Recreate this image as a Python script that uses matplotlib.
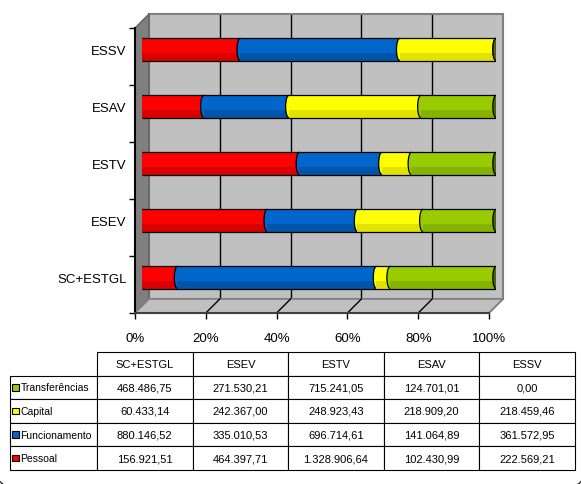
#!/usr/bin/env python3

import matplotlib
matplotlib.use('Agg')
import matplotlib.pyplot as plt
import numpy as np
from matplotlib.patches import Ellipse, Polygon, Rectangle, Arc
from matplotlib.lines import Line2D

# data
categories = ['SC+ESTGL', 'ESEV', 'ESTV', 'ESAV', 'ESSV']
series_names = ['Pessoal', 'Funcionamento', 'Capital', 'Transferências']
pessoal = [156921.51, 464397.71, 1328906.64, 102430.99, 222569.21]
funcionamento = [880146.52, 335010.53, 696714.61, 141064.89, 361572.95]
capital = [60433.14, 242367.00, 248923.43, 218909.20, 218459.46]
transferencias = [468486.75, 271530.21, 715241.05, 124701.01, 0.00]
x_ticks = [0, 20, 40, 60, 80, 100]

colors = ['#FF0000', '#0066CC', '#FFFF00', '#99CC00']
shade = ['#D80000', '#0055AA', '#E2E200', '#86B300']
cap_color = '#4F6600'

plt.rcParams['font.family'] = ['Liberation Sans', 'DejaVu Sans']

W, H = 581, 485
fig = plt.figure(figsize=(W / 100, H / 100), dpi=100)


def px_axes(x0, y0, x1, y1, **kw):
    return fig.add_axes([x0 / W, 1 - y1 / H, (x1 - x0) / W, (y1 - y0) / H], **kw)


def fmt(v):
    s = f'{v:,.2f}'
    return s.replace(',', '#').replace('.', ',').replace('#', '.')


values = np.array([pessoal, funcionamento, capital, transferencias])
pct = values / values.sum(axis=0) * 100

# back wall
ax_back = px_axes(149, 15, 503, 300)
ax_back.set_facecolor('#C0C0C0')
ax_back.set_xlim(0, 100)
ax_back.set_ylim(-0.5, 4.5)
ax_back.set_xticks(x_ticks[1:-1])
ax_back.set_yticks([])
ax_back.tick_params(length=0, labelbottom=False)
ax_back.grid(axis='x', color='black', lw=1)
for sp in ax_back.spines.values():
    sp.set_color('#808080')
    sp.set_linewidth(1.5)

# front plane: axis lines and ticks
ax_front = px_axes(135, 29, 489, 314)
ax_front.patch.set_visible(False)
ax_front.set_xlim(0, 100)
ax_front.set_ylim(-0.5, 4.5)
ax_front.set_xticks(x_ticks)
ax_front.set_xticklabels([f'{t}%' for t in x_ticks], fontsize=9.5)
ax_front.set_yticks(np.arange(-0.5, 5, 1))
ax_front.set_yticklabels([])
ax_front.tick_params(direction='out', length=4, width=1, color='black')
ax_front.tick_params(axis='x', pad=10)
ax_front.spines['top'].set_visible(False)
ax_front.spines['right'].set_visible(False)
ax_front.spines['left'].set_linewidth(1.5)
ax_front.spines['bottom'].set_linewidth(1.5)
ax_front.spines['bottom'].set_color('#404040')
ax_front.set_zorder(2)

fig.canvas.draw()
fl = ax_front.transAxes.transform((0, 0))
fr = ax_front.transAxes.transform((1, 0))
ft = ax_front.transAxes.transform((0, 1))
bl = ax_back.transAxes.transform((0, 0))
br = ax_back.transAxes.transform((1, 0))
bt = ax_back.transAxes.transform((0, 1))

# side wall and floor
fig.patches.append(Polygon([fl, bl, bt, ft], closed=True, transform=None,
                           fc='#7F7F7F', ec='#606060', lw=1, zorder=1))
fig.patches.append(Polygon([fl, fr, br, bl], closed=True, transform=None,
                           fc='#C0C0C0', ec='#808080', lw=1.2, zorder=1))
for t in x_ticks[1:]:
    p0 = ax_front.transData.transform((t, -0.5))
    p1 = ax_back.transData.transform((t, -0.5))
    fig.lines.append(Line2D([p0[0], p1[0]], [p0[1], p1[1]], transform=None,
                            color='black' if t < 100 else '#808080', lw=1, zorder=1.5))

# bars on mid-depth plane
ax = px_axes(142, 22, 496, 307)
ax.patch.set_visible(False)
ax.set_xlim(0, 100)
ax.set_ylim(-0.5, 4.5)
ax.set_xticks([])
ax.set_yticks(range(len(categories)))
ax.set_yticklabels(categories, fontsize=9.5)
ax.tick_params(axis='y', length=0, pad=11)
for sp in ax.spines.values():
    sp.set_visible(False)
ax.set_zorder(3)

bar_h = 0.39
cap_w = 1.8
for i in range(len(categories)):
    left = 0
    for j in range(len(series_names)):
        w = pct[j][i]
        z = 3 + 3 * j
        ax.add_patch(Ellipse((left, i), cap_w, bar_h, fc=colors[j], ec='black',
                             lw=0.9, zorder=z))
        ax.barh(i, w, left=left, height=bar_h, color=colors[j], lw=0, zorder=z + 1)
        ax.barh(i - bar_h * 0.33, w, left=left, height=bar_h * 0.34,
                color=shade[j], lw=0, zorder=z + 1)
        left += w
    ax.hlines([i - bar_h / 2, i + bar_h / 2], 0, 100, color='black', lw=0.9, zorder=20)
    ax.add_patch(Ellipse((100, i), cap_w, bar_h, fc=cap_color, ec='black',
                         lw=0.9, zorder=21))

# data table
ax_tab = px_axes(10, 353, 575, 471)
ax_tab.axis('off')
rows = [[''] + [fmt(v) for v in values[j]] for j in range(len(series_names) - 1, -1, -1)]
col_w = [87] + [95.6] * len(categories)
tab = ax_tab.table(cellText=rows, colLabels=[''] + categories,
                   colWidths=[c / sum(col_w) for c in col_w],
                   cellLoc='center', bbox=[0, 0, 1, 1])
tab.auto_set_font_size(False)
tab.set_fontsize(8)
for (r, c), cell in tab.get_celld().items():
    cell.set_linewidth(0.8)
    if r == 0 and c == 0:
        cell.set_edgecolor('none')

n_rows = len(series_names) + 1
for k, j in enumerate(range(len(series_names) - 1, -1, -1)):
    yc = 1 - (k + 1.5) / n_rows
    ax_tab.add_patch(Rectangle((2.5 / 565, yc - 3.2 / 118), 6 / 565, 6.4 / 118,
                               fc=colors[j], ec='black', lw=0.8,
                               transform=ax_tab.transAxes, zorder=5))
    ax_tab.text(10.5 / 565, yc, series_names[j], fontsize=7.5, va='center',
                ha='left', transform=ax_tab.transAxes, zorder=5)

# rounded corners of the outer frame (edges lie outside the picture)
r = 16
fig.patches.append(Arc((-4 + r, -3 + r), 2 * r, 2 * r, theta1=180, theta2=270,
                       transform=None, color='#303030', lw=1))
fig.patches.append(Arc((W + 4 - r, -3 + r), 2 * r, 2 * r, theta1=270, theta2=360,
                       transform=None, color='#303030', lw=1))

fig.savefig('out.png', dpi=100)
